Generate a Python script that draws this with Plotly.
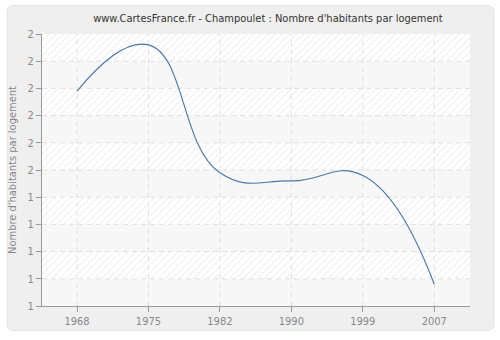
import plotly.graph_objects as go

years = ["1968", "1975", "1982", "1990", "1999", "2007"]
values = [1.79, 1.96, 1.49, 1.46, 1.48, 1.08]
y_ticks = [1.0, 1.1, 1.2, 1.3, 1.4, 1.5, 1.6, 1.7, 1.8, 1.9, 2.0]
y_tick_labels = ["1", "1", "1", "1", "1", "2", "2", "2", "2", "2", "2"]
hatched_bands = [(1.9, 2.0), (1.7, 1.8), (1.5, 1.6), (1.3, 1.4), (1.1, 1.2)]

W, H = 500, 340
L, R, T, B = 40, 30, 34, 30
pw, ph = W - L - R, H - T - B
FONT = "DejaVu Sans Condensed, Liberation Sans, sans-serif"

def px2paper(px, py):
    return (px - L) / pw, (H - B - py) / ph

xi = list(range(len(years)))
xr = [-0.49, 5.5]
GRID = "#e0e0e0"

fig = go.Figure()

for lo, hi in hatched_bands:
    fig.add_trace(go.Scatter(
        x=[xr[0], xr[1], xr[1], xr[0], xr[0]], y=[lo, lo, hi, hi, lo],
        mode="lines", line=dict(width=0), fill="toself",
        fillcolor="#ffffff",
        fillpattern=dict(shape="/", fgcolor="#e4e4e4", bgcolor="#ffffff", size=5, solidity=0.25),
        hoverinfo="skip", showlegend=False))

# dashed grid lines (drawn above the hatched bands, below the data line)
for yv in y_ticks[1:-1]:
    fig.add_trace(go.Scatter(x=xr, y=[yv, yv], mode="lines",
                             line=dict(color=GRID, width=1, dash="5px,4px"),
                             hoverinfo="skip", showlegend=False))
for xv in xi:
    fig.add_trace(go.Scatter(x=[xv, xv], y=[y_ticks[0], y_ticks[-1]], mode="lines",
                             line=dict(color=GRID, width=1, dash="5px,4px"),
                             hoverinfo="skip", showlegend=False))

fig.add_trace(go.Scatter(
    x=xi, y=values, mode="lines",
    line=dict(color="#4a76a8", width=1.1, shape="spline", smoothing=1.3),
    showlegend=False))

# outer rounded box
x0, y0 = px2paper(5, 5)
x1, y1 = px2paper(494, 335)
rx, ry = 7 / pw, 7 / ph
path = (f"M {x0+rx},{y0} L {x1-rx},{y0} Q {x1},{y0} {x1},{y0-ry} "
        f"L {x1},{y1+ry} Q {x1},{y1} {x1-rx},{y1} L {x0+rx},{y1} Q {x0},{y1} {x0},{y1+ry} "
        f"L {x0},{y0-ry} Q {x0},{y0} {x0+rx},{y0} Z")
fig.add_shape(type="path", path=path, xref="paper", yref="paper",
              fillcolor="#efefef", line=dict(color="#e4e4e4", width=1), layer="below")
fig.add_shape(type="rect", x0=0, x1=1, y0=0, y1=1, xref="paper", yref="paper",
              fillcolor="#f7f7f7", line=dict(width=0), layer="below")

fig.update_layout(
    width=W, height=H,
    margin=dict(l=L, r=R, t=T, b=B),
    paper_bgcolor="#ffffff", plot_bgcolor="#f7f7f7",
    font=dict(family=FONT, size=11, color="#888888"),
    title=dict(text="www.CartesFrance.fr - Champoulet : Nombre d'habitants par logement",
               x=(267 - L) / pw, xref="paper", xanchor="center",
               y=1 - 18 / H, yanchor="middle",
               font=dict(family=FONT, size=11, color="#333333")),
    xaxis=dict(range=xr, tickmode="array", tickvals=xi, ticktext=years,
               showgrid=False,
               showline=True, linecolor="#999999", linewidth=1,
               ticks="outside", ticklen=5, tickcolor="#999999", zeroline=False),
    yaxis=dict(range=[1.0, 2.0], tickmode="array", tickvals=y_ticks, ticktext=y_tick_labels,
               showgrid=False,
               showline=True, linecolor="#999999", linewidth=1,
               ticks="outside", ticklen=5, tickcolor="#999999", zeroline=False,
               title=dict(text="Nombre d'habitants par logement", standoff=8,
                          font=dict(family=FONT, size=11, color="#888888"))),
)

fig.write_html("out.html")
